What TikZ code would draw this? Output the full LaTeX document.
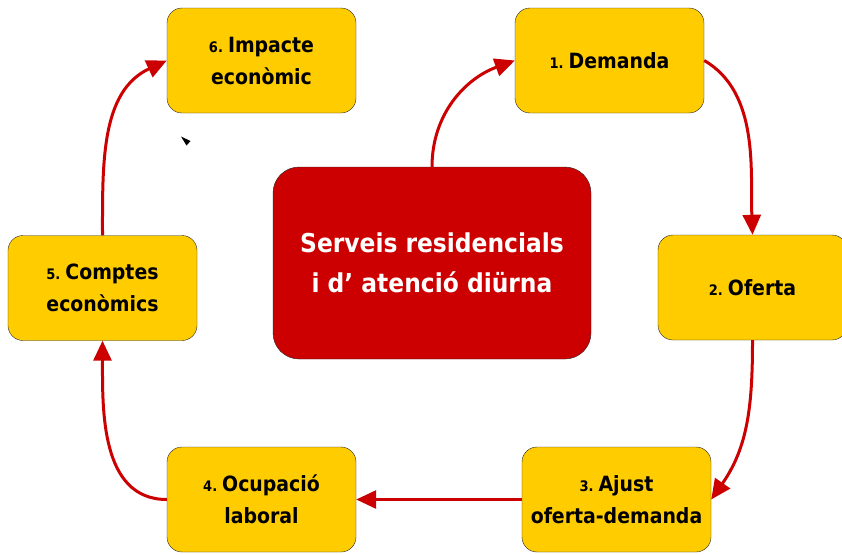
\documentclass[tikz,border=0pt]{standalone}
\usepackage{fontspec}
\setmainfont{DejaVu Sans Condensed}
\usepackage{tikz}
\usetikzlibrary{arrows.meta}

\definecolor{boxyellow}{HTML}{FFCC00}
\definecolor{hubred}{HTML}{CC0000}
\newcommand{\stepno}[1]{{\fontsize{14.5}{14.5}\selectfont #1}\hspace{5pt}}

\begin{document}
\begin{tikzpicture}[x=1pt,y=-1pt,
    box/.style={draw=black!85, fill=boxyellow, rounded corners=15pt,
        minimum width=189pt, minimum height=105pt, inner sep=2pt,
        align=center, font=\bfseries\fontsize{21}{32}\selectfont},
    hub/.style={draw=black!85, fill=hubred, text=white, rounded corners=26pt,
        minimum width=318pt, minimum height=192pt, align=center,
        font=\bfseries\fontsize{26}{40}\selectfont},
    link/.style={draw=hubred, line width=3pt,
        -{Triangle[length=20pt,width=18pt]}}]
\useasboundingbox (0,0) rectangle (842,554);
    \node[hub] (serveis) at (432,263) {Serveis residencials\\i d' atenci\'o di\"urna};
    \node[box] (demanda) at (609.5,60.5) {\stepno{1.}Demanda};
    \node[box] (oferta) at (752.5,287.5) {\stepno{2.}Oferta};
    \node[box] (ajust) at (616.5,499.5) {\stepno{3.}Ajust\\oferta-demanda};
    \node[box] (ocupacio) at (261.5,499.5) {\stepno{4.}Ocupaci\'o\\laboral};
    \node[box] (comptes) at (102.5,288) {\stepno{5.}Comptes\\econ\`omics};
    \node[box] (impacte) at (261.5,60.5) {\stepno{6.}Impacte\\econ\`omic};
    % cycle
    \draw[link] (serveis.north) to[out=90,in=200] (demanda.west);
    \draw[link] (demanda.east) to[out=-30,in=92,looseness=0.9] (oferta.north);
    \draw[link] (oferta.south) to[out=-90,in=55] (ajust.east);
    \draw[link] (ajust.west) -- (ocupacio.east);
    \draw[link] (ocupacio.west) to[out=180,in=-90] (comptes.south);
    \draw[link] (comptes.north) to[out=90,in=205] (impacte.west);
    % stray tip
    \fill (181,136.5) -- (190.5,141) -- (186.5,145.5) -- cycle;
\end{tikzpicture}
\end{document}
